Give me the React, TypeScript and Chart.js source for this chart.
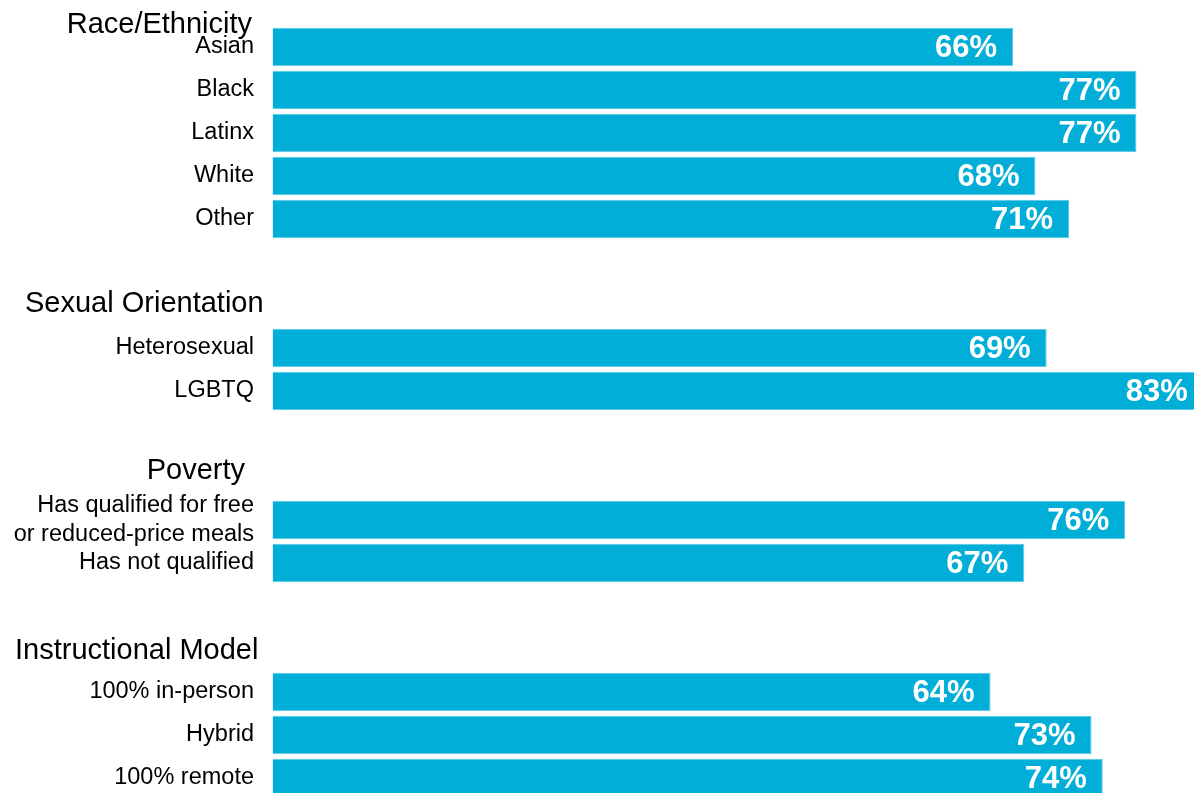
import React, { useEffect, useRef } from "react";
import { Chart, registerables } from "chart.js";

Chart.register(...registerables);

// ---- Data ----
const groupTitles = ["Race/Ethnicity", "Sexual Orientation", "Poverty", "Instructional Model"];

const raceLabels = ["Asian", "Black", "Latinx", "White", "Other"];
const raceValues = [66, 77, 77, 68, 71];

const orientationLabels = ["Heterosexual", "LGBTQ"];
const orientationValues = [69, 83];

const povertyLabels: (string | string[])[] = [
  ["Has qualified for free", "or reduced-price meals"],
  "Has not qualified",
];
const povertyValues = [76, 67];

const modelLabels = ["100% in-person", "Hybrid", "100% remote"];
const modelValues = [64, 73, 74];

// ---- Layout / style ----
const FONT = "'Liberation Sans', Arial, Helvetica, sans-serif";
const BAR_COLOR = "#00AED8";
const BAR_EDGE = "#5CC8E6";
// header text placement (left x, baseline y) in canvas pixels
const headerPlacement = [
  { x: 66.7, y: 32.5 },
  { x: 25, y: 312 },
  { x: 146.7, y: 478.5 },
  { x: 15, y: 658.5 },
];

function buildRows() {
  const labels: (string | string[])[] = [];
  const values: (number | null)[] = [];
  const groups: [(string | string[])[], number[]][] = [
    [raceLabels, raceValues],
    [orientationLabels, orientationValues],
    [povertyLabels, povertyValues],
    [modelLabels, modelValues],
  ];
  groups.forEach(([ls, vs], gi) => {
    if (gi > 0) {
      labels.push("");
      values.push(null);
      labels.push(""); // header slot
      values.push(null);
    }
    ls.forEach((l, i) => {
      labels.push(l);
      values.push(vs[i]);
    });
  });
  return { labels, values };
}

export default function App() {
  const ref = useRef<HTMLCanvasElement | null>(null);

  useEffect(() => {
    const canvas = ref.current;
    if (!canvas) return;
    const { labels, values } = buildRows();

    const valueLabelPlugin = {
      id: "valueLabels",
      afterDatasetsDraw(chart: any) {
        const ctx = chart.ctx;
        const meta = chart.getDatasetMeta(0);
        const xScale = chart.scales.x;
        ctx.save();
        ctx.font = `bold 31px ${FONT}`;
        ctx.fillStyle = "#ffffff";
        ctx.textAlign = "right";
        ctx.textBaseline = "middle";
        meta.data.forEach((el: any, i: number) => {
          const v = values[i];
          if (v == null) return;
          const xEnd = xScale.getPixelForValue(v);
          ctx.fillText(`${v}%`, xEnd - 16, el.y + 1);
        });
        ctx.restore();
      },
    };

    const headerPlugin = {
      id: "groupHeaders",
      afterDraw(chart: any) {
        const ctx = chart.ctx;
        ctx.save();
        ctx.font = `29px ${FONT}`;
        ctx.fillStyle = "#000000";
        ctx.textAlign = "left";
        ctx.textBaseline = "alphabetic";
        groupTitles.forEach((t, i) => {
          const p = headerPlacement[i];
          ctx.fillText(t, p.x, p.y);
        });
        ctx.restore();
      },
    };

    const chart = new Chart(canvas, {
      type: "bar",
      data: {
        labels,
        datasets: [
          {
            data: values,
            backgroundColor: BAR_COLOR,
            borderColor: BAR_EDGE,
            borderWidth: 1,
            barPercentage: 0.9,
            categoryPercentage: 1,
          },
        ],
      },
      options: {
        indexAxis: "y",
        responsive: false,
        animation: false,
        layout: { padding: { top: 25.5, bottom: 14.5, left: 0, right: 0 } },
        plugins: {
          legend: { display: false },
          tooltip: { enabled: false },
          title: { display: false },
        },
        scales: {
          x: {
            display: false,
            min: 0,
            max: 82.13,
          },
          y: {
            grid: { display: false, drawTicks: true, tickLength: 18.5 },
            border: { display: false },
            ticks: {
              padding: 0,
              color: "#000000",
              font: { family: FONT, size: 23.5, lineHeight: 1.2 },
              autoSkip: false,
            },
            afterFit(scale: any) {
              scale.width = 272.5;
            },
          },
        },
      },
      plugins: [valueLabelPlugin, headerPlugin],
    });

    return () => chart.destroy();
  }, []);

  return (
    <div
      style={{
        position: "fixed",
        left: 0,
        top: 0,
        width: "100vw",
        height: "100vh",
        overflow: "hidden",
        background: "#ffffff",
      }}
    >
      <canvas ref={ref} width={1194} height={814} style={{ display: "block" }} />
    </div>
  );
}
